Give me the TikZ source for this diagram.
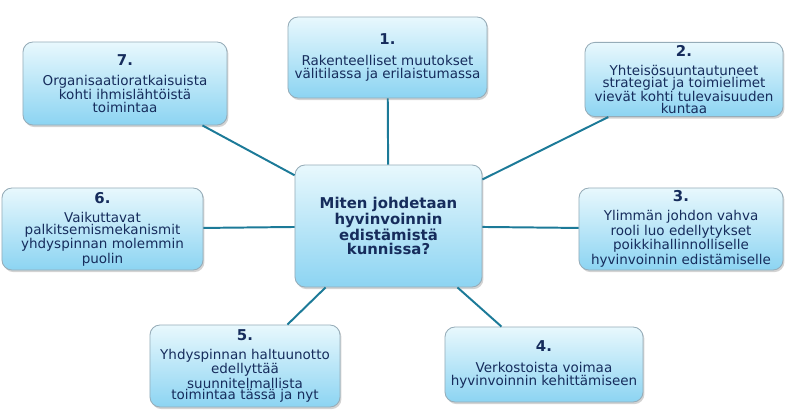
\documentclass[tikz,border=0pt]{standalone}
\usepackage{fontspec}
\setmainfont{DejaVu Sans}
\usepackage{xcolor}
\usepackage{tikz}
\usetikzlibrary{shadows}
\definecolor{mapnavy}{RGB}{22,44,92}
\definecolor{mapline}{RGB}{28,122,152}
\definecolor{maptop}{RGB}{232,248,253}
\definecolor{mapbottom}{RGB}{140,212,242}
\definecolor{mapedge}{RGB}{150,172,184}
\newcommand{\nro}[1]{{\fontsize{10.6}{12}\selectfont\bfseries #1}\\[5pt]}

\begin{document}
\begin{tikzpicture}[
  x=0.025cm, y=-0.025cm,
  card/.style={draw=mapedge, line width=0.6pt, rounded corners=0.25cm,
    top color=maptop, bottom color=mapbottom, align=center, text=mapnavy, inner sep=2pt,
    font=\fontsize{9.6}{9.5}\selectfont,
    drop shadow={opacity=0.35, shadow xshift=1pt, shadow yshift=-1.5pt}},
  cardtight/.style={card, font=\fontsize{9.6}{8.5}\selectfont},
  hub/.style={card, font=\fontsize{10.6}{10}\selectfont\bfseries},
  link/.style={draw=mapline, line width=1.4pt},
]
\useasboundingbox (0,0) rectangle (790,418);
% keskus
\node[hub, minimum width=4.675cm, minimum height=3.05cm] (hub) at (388.5,226)
  {Miten johdetaan\\hyvinvoinnin\\edistämistä\\kunnissa?};
% seitsemän teemaa
\node[card, minimum width=4.975cm, minimum height=2.025cm] (b1) at (387.5,57.5)
  {\nro{1.}Rakenteelliset muutokset\\välitilassa ja erilaistumassa};
\node[cardtight, minimum width=4.95cm, minimum height=1.825cm] (b2) at (684,79.5)
  {\nro{2.}Yhteisösuuntautuneet\\strategiat ja toimielimet\\vievät kohti tulevaisuuden\\kuntaa};
\node[cardtight, minimum width=5.1cm, minimum height=2.05cm] (b3) at (681,229)
  {\nro{3.}Ylimmän johdon vahva\\rooli luo edellytykset\\poikkihallinnolliselle\\hyvinvoinnin edistämiselle};
\node[card, minimum width=4.95cm, minimum height=1.875cm] (b4) at (544,364.5)
  {\nro{4.}Verkostoista voimaa\\hyvinvoinnin kehittämiseen};
\node[cardtight, minimum width=4.75cm, minimum height=2.05cm] (b5) at (245,366)
  {\nro{5.}Yhdyspinnan haltuunotto\\edellyttää\\suunnitelmallista\\toimintaa tässä ja nyt};
\node[cardtight, minimum width=5.025cm, minimum height=2.05cm] (b6) at (102.5,229)
  {\nro{6.}Vaikuttavat\\palkitsemismekanismit\\yhdyspinnan molemmin\\puolin};
\node[card, font=\fontsize{9.6}{8.9}\selectfont, minimum width=5.1cm, minimum height=2.075cm] (b7) at (125,83.5)
  {\nro{7.}Organisaatioratkaisuista\\kohti ihmislähtöistä\\toimintaa};
% yhteydet
\foreach \b in {b1,b2,b3,b4,b5,b6,b7}
  \draw[link] (hub) -- (\b);
\end{tikzpicture}
\end{document}
